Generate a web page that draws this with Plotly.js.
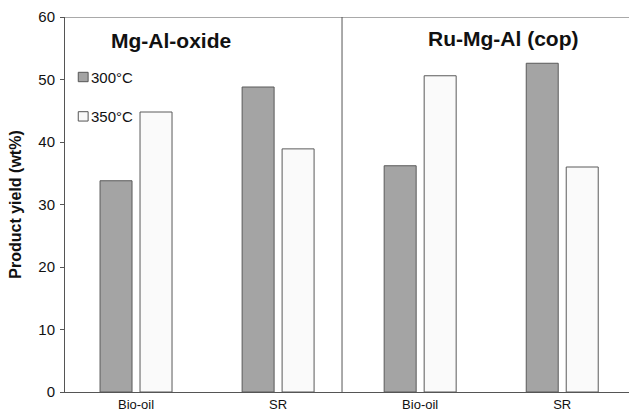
<!DOCTYPE html>
<html><head><meta charset="utf-8">
<script src="https://cdn.plot.ly/plotly-3.0.1.min.js"></script>
<style>body{margin:0;background:#fff}#c{width:629px;height:413px}</style>
</head><body><div id="c"></div>
<script>
const categories = ["Bio-oil", "SR", "Bio-oil", "SR"];
const series300 = [33.8, 48.8, 36.2, 52.6];
const series350 = [44.8, 38.9, 50.6, 36.0];
const seriesNames = ["300°C", "350°C"];
const seriesColors = ["#a4a4a4", "#fafafa"];
const panelLabels = ["Mg-Al-oxide", "Ru-Mg-Al (cop)"];
const yTicks = [0, 10, 20, 30, 40, 50, 60];

const idx = categories.map((_, i) => i);
const traces = [
  {type: 'bar', x: idx, y: series300, name: seriesNames[0],
   marker: {color: seriesColors[0], line: {color: '#5a5a5a', width: 1}}},
  {type: 'bar', x: idx, y: series350, name: seriesNames[1],
   marker: {color: seriesColors[1], line: {color: '#5a5a5a', width: 1}}}
];

// manual legend
const legY = [50.4, 44.1];
const legShapes = seriesNames.map((n, i) => ({
  type: 'rect', xref: 'paper', yref: 'y', x0: 0.0235, x1: 0.041,
  y0: legY[i] - 0.75, y1: legY[i] + 0.75,
  fillcolor: seriesColors[i], line: {color: '#555', width: 1}
}));
const legAnn = seriesNames.map((n, i) => ({
  xref: 'paper', yref: 'y', x: 0.043, y: legY[i], xanchor: 'left', text: n,
  showarrow: false, font: {size: 15, color: '#111'}
}));

const layout = {
  width: 629, height: 413,
  margin: {l: 65, r: 0, t: 17, b: 21},
  paper_bgcolor: '#fff', plot_bgcolor: '#fff',
  font: {family: 'Liberation Sans, Arial, sans-serif', color: '#111'},
  barmode: 'group', bargap: 0.437, bargroupgap: 0.2,
  showlegend: false,
  xaxis: {range: [-0.5, 3.47], tickvals: idx, ticktext: categories,
    showgrid: false, zeroline: false, showline: true, linecolor: '#555', linewidth: 1,
    ticks: '', tickfont: {size: 13, color: '#111'}, ticklabelstandoff: 0, fixedrange: true},
  yaxis: {range: [0, 60], tickvals: yTicks, showgrid: false, zeroline: false,
    showline: true, linecolor: '#555', linewidth: 1, ticks: 'outside', ticklen: 4,
    tickcolor: '#555', tickfont: {size: 15, color: '#111'}, ticklabelstandoff: 2,
    title: {text: '<b>Product yield (wt%)</b>', font: {size: 16, color: '#111'}, standoff: 12}},
  shapes: [
    {type: 'line', xref: 'paper', yref: 'y', x0: 0, x1: 1, y0: 60, y1: 60, line: {color: '#555', width: 1}},
    {type: 'line', xref: 'x', yref: 'y', x0: 1.45, x1: 1.45, y0: 0, y1: 60, line: {color: '#555', width: 1}}
  ].concat(legShapes),
  annotations: [
    {xref: 'x', yref: 'y', x: 0.245, y: 56.2, text: '<b>' + panelLabels[0] + '</b>', showarrow: false,
     font: {size: 21, color: '#111'}},
    {xref: 'x', yref: 'y', x: 2.58, y: 56.5, text: '<b>' + panelLabels[1] + '</b>', showarrow: false,
     font: {size: 21, color: '#111'}}
  ].concat(legAnn)
};
Plotly.newPlot('c', traces, layout, {displayModeBar: false, staticPlot: true});
</script></body></html>
